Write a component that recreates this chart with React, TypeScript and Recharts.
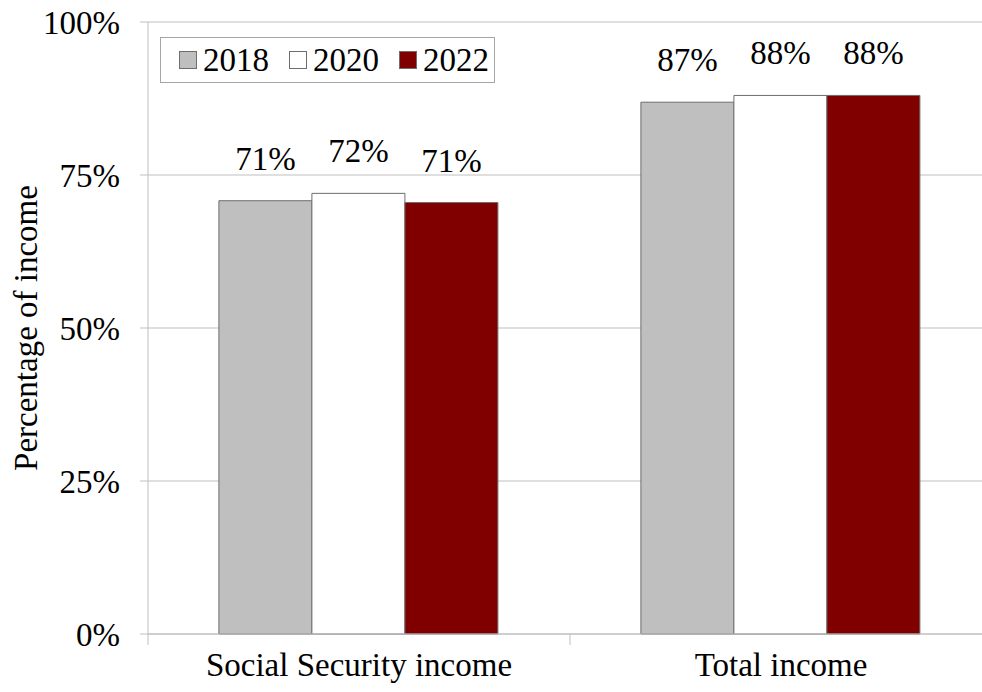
import React from 'react';
import { BarChart, Bar, XAxis, YAxis, CartesianGrid, Legend, LabelList } from 'recharts';

const categories = ['Social Security income', 'Total income'];
const series2018 = [70.8, 86.9];
const series2020 = [72.0, 88.0];
const series2022 = [70.5, 88.0];
const yTicks = [0, 25, 50, 75, 100];
const seriesNames = ['2018', '2020', '2022'];
const seriesColors = ['#BFBFBF', '#FFFFFF', '#800000'];

const data = categories.map((c, i) => ({
  name: c,
  y2018: series2018[i],
  y2020: series2020[i],
  y2022: series2022[i],
}));

const CHART_W = 1000;
const CHART_H = 692;
const MARGIN = { top: 22, right: 8, bottom: 0, left: 0 };
const YAXIS_W = 148;
const PLOT_W = CHART_W - MARGIN.left - MARGIN.right - YAXIS_W;
const FONT = 'Liberation Serif, Times New Roman, serif';
const FS = 33;
const GRID = '#BFBFBF';
const STROKE = '#6E6E6E';

const XTick = (props: any) => {
  const { x, y, payload } = props;
  const band = PLOT_W / categories.length;
  const half = band / 2;
  return (
    <g>
      <line x1={x - half} x2={x - half} y1={y} y2={y + 11} stroke={GRID} />
      {payload.index === categories.length - 1 && (
        <line x1={x + half} x2={x + half} y1={y} y2={y + 11} stroke={GRID} />
      )}
      <text x={x} y={y + 42} textAnchor="middle" fontSize={FS} fontFamily={FONT} fill="#000">
        {payload.value}
      </text>
    </g>
  );
};

const LegendContent = (props: any) => {
  const { payload } = props;
  return (
    <div
      style={{
        border: '1px solid #A6A6A6',
        width: 335,
        height: 46,
        display: 'flex',
        alignItems: 'center',
        paddingLeft: 18,
        boxSizing: 'border-box',
        fontFamily: FONT,
        fontSize: FS,
        background: '#fff',
      }}
    >
      {(payload || []).map((p: any, i: number) => (
        <div key={i} style={{ display: 'flex', alignItems: 'center', marginRight: i < 2 ? 20 : 0 }}>
          <div
            style={{
              width: 16,
              height: 16,
              background: seriesColors[i],
              border: `1px solid ${STROKE}`,
              marginRight: 6,
            }}
          />
          <span style={{ color: '#000', lineHeight: '33px' }}>{p.value}</span>
        </div>
      ))}
    </div>
  );
};

const YLabel = (props: any) => {
  const { viewBox } = props;
  const cy = viewBox ? viewBox.y + viewBox.height / 2 : 328;
  return (
    <text
      x={37}
      y={cy}
      transform={`rotate(-90, 37, ${cy})`}
      textAnchor="middle"
      fontSize={FS}
      fontFamily={FONT}
      fill="#000"
    >
      Percentage of income
    </text>
  );
};

const fmt = (v: any) => `${Math.round(Number(v))}%`;
const labelStyle = { fontSize: FS, fontFamily: FONT, fill: '#000' };

export default function App() {
  return (
    <div style={{ position: 'absolute', left: 0, top: 0, width: CHART_W, height: CHART_H, background: '#fff', fontFamily: FONT }}>
      <BarChart
        width={CHART_W}
        height={CHART_H}
        data={data}
        margin={MARGIN}
        barCategoryGap="16.8%"
        barGap={0}
      >
        <CartesianGrid vertical={false} stroke={GRID} strokeWidth={1} />
        <XAxis
          dataKey="name"
          height={58}
          tickSize={0}
          tickMargin={0}
          axisLine={{ stroke: GRID }}
          tickLine={false}
          tick={<XTick />}
          interval={0}
        />
        <YAxis
          width={YAXIS_W}
          domain={[0, 100]}
          ticks={yTicks}
          tickFormatter={(v: number) => `${v}%`}
          tickSize={8}
          tickMargin={20}
          axisLine={{ stroke: GRID }}
          tickLine={{ stroke: GRID }}
          tick={{ fontSize: FS, fontFamily: FONT, fill: '#000' }}
          label={<YLabel />}
        />
        <Legend
          content={<LegendContent />}
          layout="horizontal"
          verticalAlign="middle"
          align="center"
          wrapperStyle={{ position: 'absolute', top: 37, left: 160, width: 'auto', height: 'auto' }}
        />
        <Bar dataKey="y2018" name={seriesNames[0]} fill={seriesColors[0]} stroke={STROKE} strokeWidth={1} isAnimationActive={false}>
          <LabelList dataKey="y2018" position="top" offset={31} formatter={fmt} style={labelStyle} />
        </Bar>
        <Bar dataKey="y2020" name={seriesNames[1]} fill={seriesColors[1]} stroke={STROKE} strokeWidth={1} isAnimationActive={false}>
          <LabelList dataKey="y2020" position="top" offset={31} formatter={fmt} style={labelStyle} />
        </Bar>
        <Bar dataKey="y2022" name={seriesNames[2]} fill={seriesColors[2]} stroke={STROKE} strokeWidth={1} isAnimationActive={false}>
          <LabelList dataKey="y2022" position="top" offset={31} formatter={fmt} style={labelStyle} />
        </Bar>
      </BarChart>
    </div>
  );
}
